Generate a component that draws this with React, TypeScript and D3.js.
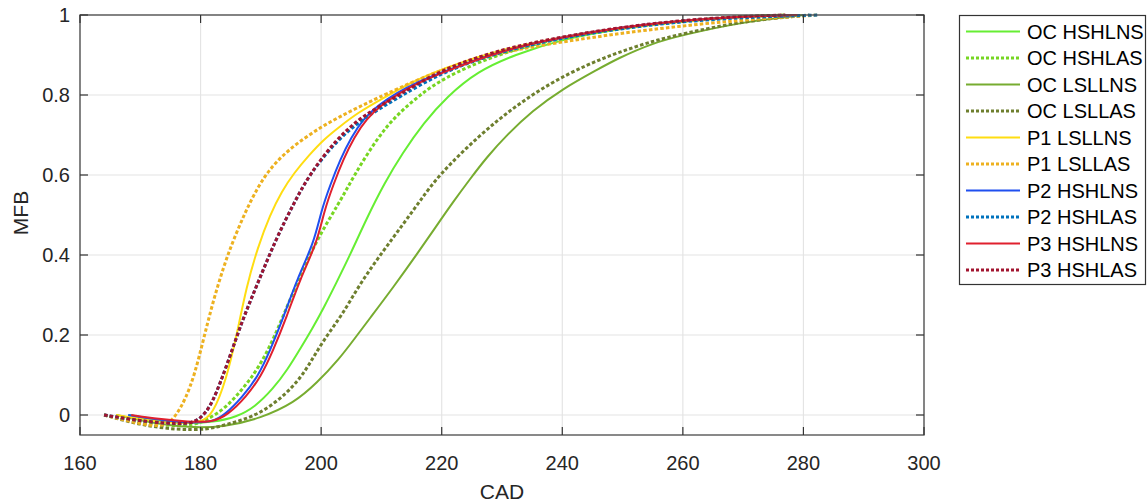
import React from "react";
import * as d3 from "d3";

// ---- data ----
const X_TICKS = [160, 180, 200, 220, 240, 260, 280, 300];
const Y_TICKS = [0, 0.2, 0.4, 0.6, 0.8, 1];

const SERIES_NAMES = [
  "OC HSHLNS", "OC HSHLAS", "OC LSLLNS", "OC LSLLAS", "P1 LSLLNS",
  "P1 LSLLAS", "P2 HSHLNS", "P2 HSHLAS", "P3 HSHLNS", "P3 HSHLAS",
];
const SERIES_COLORS = [
  "#66EE33", "#77D622", "#77AC30", "#6E7F2E", "#FFDD11",
  "#EDB120", "#1F4FEF", "#0072BD", "#E0202E", "#A2142F",
];
const SERIES_DOTTED = [false, true, false, true, false, true, false, true, false, true];

const ocHshlnsCad = [168, 172, 178, 182, 186, 189, 192, 194.5, 196.5, 198.5, 200.5, 202.5, 204.8, 207.5, 210.5, 213.5, 217, 220.8, 226, 232, 240, 250, 260, 268, 275.5];
const ocHshlnsMfb = [0, -0.012, -0.022, -0.018, -0.005, 0.02, 0.065, 0.115, 0.165, 0.215, 0.27, 0.33, 0.4, 0.49, 0.58, 0.655, 0.73, 0.795, 0.86, 0.9, 0.94, 0.967, 0.985, 0.995, 1];

const ocHshlasCad = [164, 170, 175, 179, 181, 184, 187, 189.5, 192, 195.4, 199.3, 203, 205.5, 209.2, 212.5, 216.4, 220, 228.6, 240, 250, 260, 270, 277];
const ocHshlasMfb = [0, -0.018, -0.028, -0.025, -0.012, 0.015, 0.065, 0.115, 0.185, 0.31, 0.44, 0.53, 0.6, 0.69, 0.75, 0.8, 0.84, 0.9, 0.945, 0.968, 0.985, 0.996, 1];

const ocLsllnsCad = [166, 172, 178, 184, 190, 195.5, 199.3, 203, 205.5, 208, 212, 215.8, 219, 222, 224.7, 227.5, 230.8, 235, 240, 246, 249, 255, 260, 270, 280];
const ocLsllnsMfb = [0, -0.02, -0.032, -0.03, -0.008, 0.03, 0.08, 0.14, 0.19, 0.24, 0.32, 0.4, 0.47, 0.535, 0.59, 0.645, 0.7, 0.76, 0.815, 0.865, 0.89, 0.93, 0.95, 0.983, 1];

const ocLsllasCad = [164, 170, 176, 181, 184, 190, 195.5, 198, 200.5, 203.5, 206.5, 210.3, 213.5, 216.4, 219.5, 226.3, 232, 238, 244, 249, 255, 260, 270, 281];
const ocLsllasMfb = [0, -0.025, -0.037, -0.037, -0.025, 0, 0.07, 0.125, 0.19, 0.25, 0.33, 0.41, 0.475, 0.535, 0.6, 0.7, 0.77, 0.83, 0.875, 0.905, 0.935, 0.953, 0.985, 1];

const p1LsllnsCad = [166, 172, 177, 180, 182, 184.3, 186, 187.6, 189.5, 191.5, 193.5, 195.5, 198, 200.5, 203, 206, 210, 215, 220, 230, 240, 250, 260, 270, 278];
const p1LsllnsMfb = [0, -0.015, -0.022, -0.018, 0, 0.09, 0.2, 0.32, 0.42, 0.5, 0.56, 0.605, 0.65, 0.69, 0.72, 0.755, 0.79, 0.832, 0.866, 0.915, 0.945, 0.968, 0.985, 0.996, 1];

const p1LsllasCad = [164, 168, 172, 174.5, 176, 177.5, 179, 180.5, 182, 183.8, 185.5, 187.5, 189.5, 191.5, 194, 197, 200, 203, 206.5, 210, 220, 230, 240, 250, 260, 270, 282.5];
const p1LsllasMfb = [0, -0.015, -0.028, -0.025, 0, 0.04, 0.1, 0.19, 0.28, 0.37, 0.44, 0.51, 0.57, 0.615, 0.655, 0.69, 0.72, 0.745, 0.772, 0.797, 0.866, 0.908, 0.933, 0.955, 0.973, 0.988, 1];

const p2HshlnsCad = [168, 173, 178, 182, 184, 187, 189.5, 191.5, 193.8, 196, 198.8, 200, 201.5, 203.2, 205, 207, 209.5, 212.5, 216, 220, 230, 240, 250, 260, 270, 279];
const p2HshlnsMfb = [0, -0.012, -0.02, -0.018, 0, 0.046, 0.096, 0.16, 0.246, 0.34, 0.43, 0.51, 0.575, 0.64, 0.695, 0.74, 0.775, 0.805, 0.833, 0.857, 0.912, 0.945, 0.97, 0.987, 0.997, 1];

const p2HshlasCad = [164, 168, 172, 176, 179, 180.5, 182, 184.5, 187, 189.5, 192.5, 195.5, 198, 202.5, 207, 213, 220, 230, 240, 250, 260, 270, 282.5];
const p2HshlasMfb = [0, -0.01, -0.018, -0.022, -0.02, 0, 0.03, 0.13, 0.24, 0.33, 0.44, 0.53, 0.6, 0.685, 0.742, 0.795, 0.857, 0.91, 0.943, 0.967, 0.984, 0.994, 1];

const p3HshlnsCad = [168.5, 173, 178, 182, 184.5, 187.6, 190, 192, 194.3, 196.5, 199.3, 200.5, 202, 203.7, 205.5, 207.5, 210, 213, 216.5, 220, 230, 240, 250, 260, 270, 279];
const p3HshlnsMfb = [0, -0.01, -0.017, -0.018, 0, 0.046, 0.096, 0.16, 0.246, 0.34, 0.43, 0.51, 0.575, 0.64, 0.695, 0.74, 0.775, 0.805, 0.833, 0.855, 0.912, 0.945, 0.97, 0.987, 0.997, 1];

const p3HshlasCad = [164, 168, 172, 176, 179, 180.5, 182, 184.5, 187, 189.5, 192.5, 195.5, 198, 202.5, 207, 213, 220, 230, 240, 250, 260, 270, 277];
const p3HshlasMfb = [0, -0.01, -0.018, -0.022, -0.02, 0, 0.03, 0.13, 0.24, 0.33, 0.44, 0.53, 0.6, 0.69, 0.75, 0.8, 0.865, 0.915, 0.946, 0.97, 0.987, 0.997, 1];

const SERIES_CAD = [ocHshlnsCad, ocHshlasCad, ocLsllnsCad, ocLsllasCad, p1LsllnsCad, p1LsllasCad, p2HshlnsCad, p2HshlasCad, p3HshlnsCad, p3HshlasCad];
const SERIES_MFB = [ocHshlnsMfb, ocHshlasMfb, ocLsllnsMfb, ocLsllasMfb, p1LsllnsMfb, p1LsllasMfb, p2HshlnsMfb, p2HshlasMfb, p3HshlnsMfb, p3HshlasMfb];

// ---- layout ----
const W = 1147, H = 503;
const AX = { left: 80, right: 924, top: 15, bottom: 435 };
const FONT = "'Liberation Sans', Arial, Helvetica, sans-serif";

export default function App() {
  const x = d3.scaleLinear().domain([160, 300]).range([AX.left, AX.right]);
  const y = d3.scaleLinear().domain([-0.05, 1]).range([AX.bottom, AX.top]);
  const line = d3
    .line<[number, number]>()
    .x((d) => x(d[0]))
    .y((d) => y(d[1]))
    .curve(d3.curveBasis);

  const legendTop = 31.5;
  const legendStep = 26.5;

  return (
    <svg
      width={W}
      height={H}
      style={{ position: "absolute", left: 0, top: 0, background: "#fff" }}
      fontFamily={FONT}
    >
      <rect x={0} y={0} width={W} height={H} fill="#fff" />
      <defs>
        <clipPath id="plotClip">
          <rect x={AX.left} y={AX.top - 2} width={AX.right - AX.left} height={AX.bottom - AX.top + 2} />
        </clipPath>
      </defs>
      {/* grid */}
      {X_TICKS.map((t) => (
        <line key={"gx" + t} x1={x(t)} x2={x(t)} y1={AX.top} y2={AX.bottom} stroke="#e4e4e4" strokeWidth={1.2} />
      ))}
      {Y_TICKS.map((t) => (
        <line key={"gy" + t} x1={AX.left} x2={AX.right} y1={y(t)} y2={y(t)} stroke="#e4e4e4" strokeWidth={1.2} />
      ))}
      {/* series */}
      <g clipPath="url(#plotClip)">
        {SERIES_NAMES.map((name, i) => {
          const pts = SERIES_CAD[i].map((c, k) => [c, SERIES_MFB[i][k]] as [number, number]);
          return (
            <path
              key={name}
              d={line(pts) || ""}
              fill="none"
              stroke={SERIES_COLORS[i]}
              strokeWidth={SERIES_DOTTED[i] ? 3 : 2}
              strokeDasharray={SERIES_DOTTED[i] ? "3.5 2.2" : undefined}
            />
          );
        })}
      </g>
      {/* axes box */}
      <rect
        x={AX.left}
        y={AX.top}
        width={AX.right - AX.left}
        height={AX.bottom - AX.top}
        fill="none"
        stroke="#4a4a4a"
        strokeWidth={1.3}
      />
      {X_TICKS.map((t) => (
        <g key={"tx" + t}>
          <line x1={x(t)} x2={x(t)} y1={AX.bottom} y2={AX.bottom - 8} stroke="#333" strokeWidth={1.2} />
          <line x1={x(t)} x2={x(t)} y1={AX.top} y2={AX.top + 8} stroke="#333" strokeWidth={1.2} />
          <text x={x(t)} y={470} textAnchor="middle" fontSize={20} fill="#262626">
            {t}
          </text>
        </g>
      ))}
      {Y_TICKS.map((t) => (
        <g key={"ty" + t}>
          <line x1={AX.left} x2={AX.left + 8} y1={y(t)} y2={y(t)} stroke="#333" strokeWidth={1.2} />
          <line x1={AX.right} x2={AX.right - 8} y1={y(t)} y2={y(t)} stroke="#333" strokeWidth={1.2} />
          <text x={70} y={y(t)} dy="0.36em" textAnchor="end" fontSize={20} fill="#262626">
            {t}
          </text>
        </g>
      ))}
      <text x={(AX.left + AX.right) / 2} y={499} textAnchor="middle" fontSize={21} fill="#262626">
        CAD
      </text>
      <text
        transform={`translate(28, ${(AX.top + AX.bottom) / 2 - 12}) rotate(-90)`}
        textAnchor="middle"
        fontSize={21}
        fill="#262626"
      >
        MFB
      </text>
      {/* legend */}
      <rect x={959.5} y={15.5} width={186} height={269} fill="#fff" stroke="#333" strokeWidth={1.2} />
      {SERIES_NAMES.map((name, i) => {
        const ly = legendTop + i * legendStep;
        return (
          <g key={"lg" + name}>
            <line
              x1={966}
              x2={1020}
              y1={ly}
              y2={ly}
              stroke={SERIES_COLORS[i]}
              strokeWidth={SERIES_DOTTED[i] ? 3 : 2}
              strokeDasharray={SERIES_DOTTED[i] ? "3 2" : undefined}
            />
            <text x={1027} y={ly} dy="0.36em" fontSize={20} fill="#000">
              {name}
            </text>
          </g>
        );
      })}
    </svg>
  );
}
